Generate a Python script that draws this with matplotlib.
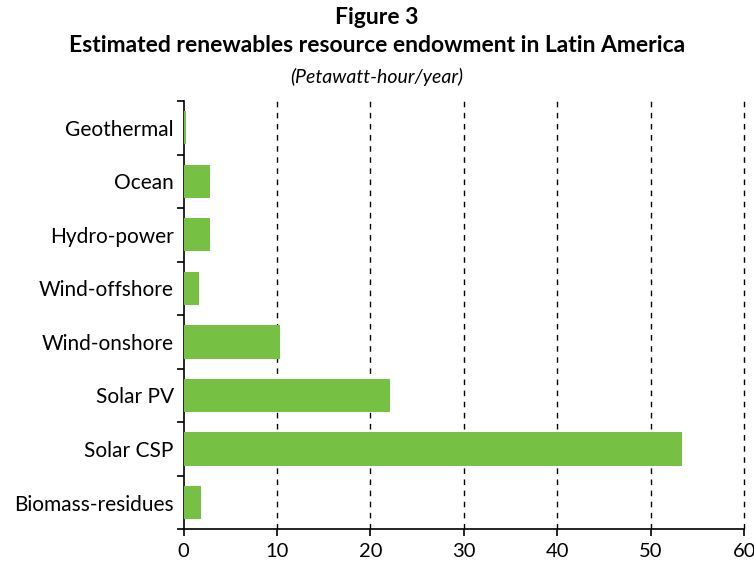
import matplotlib
matplotlib.use("Agg")
import matplotlib.pyplot as plt
import numpy as np

categories = ["Geothermal", "Ocean", "Hydro-power", "Wind-offshore", "Wind-onshore",
              "Solar PV", "Solar CSP", "Biomass-residues"]
values = [0.3, 2.8, 2.8, 1.7, 10.3, 22.1, 53.3, 1.85]
xticks = [0, 10, 20, 30, 40, 50, 60]

plt.rcParams['font.family'] = ['Lato', 'DejaVu Sans']

fig = plt.figure(figsize=(7.54, 5.63), dpi=100)
ax = fig.add_axes([0.2434, 0.0598, 0.987 - 0.2434, 0.8206 - 0.0598])

y = np.arange(len(categories))
ax.barh(y, values, height=0.62, color="#76C043", zorder=3)
ax.set_ylim(len(categories) - 0.5, -0.5)
ax.set_xlim(0, 60)

ax.set_xticks(xticks)
ax.set_xticklabels([str(t) for t in xticks], fontsize=14.5)
ax.set_yticks(y)
ax.set_yticklabels(categories, fontsize=15)
ax.set_yticks(np.arange(len(categories) + 1) - 0.5, minor=True)
ax.tick_params(axis='y', which='major', length=0, pad=7)
ax.tick_params(axis='y', which='minor', length=5, width=1.2, direction='out')
ax.tick_params(axis='x', which='major', length=5, width=1.2, direction='out', pad=5)

for t in xticks[1:]:
    ax.axvline(t, color='black', linestyle=(0, (4, 4)), linewidth=1.0, zorder=1, clip_on=False)

for s in ['top', 'right']:
    ax.spines[s].set_visible(False)
ax.spines['left'].set_linewidth(1.2)
ax.spines['bottom'].set_linewidth(1.2)

fig.text(0.5, 1 - 17/563, "Figure 3", ha='center', va='center', fontsize=16.5, fontweight='bold')
fig.text(0.5, 1 - 46/563, "Estimated renewables resource endowment in Latin America",
         ha='center', va='center', fontsize=16.5, fontweight='bold')
fig.text(0.5, 1 - 77/563, "(Petawatt-hour/year)", ha='center', va='center',
         fontsize=14, fontstyle='italic')

fig.savefig("out.png", dpi=100)
